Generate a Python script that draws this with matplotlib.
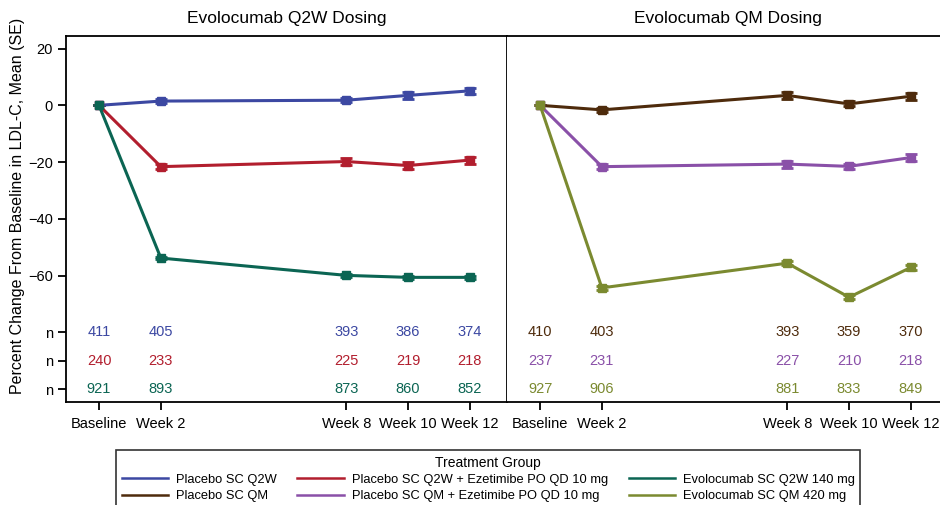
import matplotlib
matplotlib.use("Agg")
import matplotlib.pyplot as plt
from matplotlib.lines import Line2D

plt.rcParams['font.family'] = ['Liberation Sans', 'DejaVu Sans']

# data
weeks = [0, 2, 8, 10, 12]
week_labels = ['Baseline', 'Week 2', 'Week 8', 'Week 10', 'Week 12']

q2w_names = ['Placebo SC Q2W', 'Placebo SC Q2W + Ezetimibe PO QD 10 mg', 'Evolocumab SC Q2W 140 mg']
q2w_mean = [[0, 1.5, 1.8, 3.5, 5.1],
            [0, -21.6, -19.8, -21.2, -19.3],
            [0, -53.8, -59.9, -60.6, -60.6]]
q2w_se = [[0, 0.6, 0.7, 1.1, 1.1],
          [0, 0.8, 1.1, 1.3, 1.2],
          [0, 0.5, 0.5, 0.5, 0.5]]
q2w_n = [[411, 405, 393, 386, 374],
         [240, 233, 225, 219, 218],
         [921, 893, 873, 860, 852]]

qm_names = ['Placebo SC QM', 'Placebo SC QM + Ezetimibe PO QD 10 mg', 'Evolocumab SC QM 420 mg']
qm_mean = [[0, -1.6, 3.5, 0.5, 3.2],
           [0, -21.6, -20.7, -21.5, -18.4],
           [0, -64.3, -55.6, -67.6, -57.1]]
qm_se = [[0, 0.6, 1.2, 0.9, 1.2],
         [0, 0.9, 1.2, 1.0, 1.3],
         [0, 0.6, 0.7, 0.7, 0.8]]
qm_n = [[410, 403, 393, 359, 370],
        [237, 231, 227, 210, 218],
        [927, 906, 881, 833, 849]]

q2w_colors = ['#3C48A2', '#B21E2E', '#0B6553']
qm_colors = ['#4E2B0C', '#8A50A8', '#7B8A30']

n_rows = [-80, -90, -100]

fig = plt.figure(figsize=(9.4, 5.05), dpi=100)
ax1 = fig.add_axes([0.0702, 0.204, 0.469, 0.7257])
ax2 = fig.add_axes([0.5394, 0.204, 0.469, 0.7257])

def draw_panel(ax, means, ses, ns, colors, title):
    for m, s, c in zip(means, ses, colors):
        ax.errorbar(weeks, m, yerr=s, color=c, lw=2.2, marker='s', ms=6,
                    capsize=4, capthick=2, elinewidth=2, zorder=3)
    for row, y in enumerate(n_rows):
        for x, v in zip(weeks, ns[row]):
            ax.text(x, y, str(v), color=colors[row], ha='center', va='center', fontsize=10.5)
    ax.set_xlim(-1.07, 13.2)
    ax.set_ylim(-104.5, 24.6)
    ax.set_xticks(weeks)
    ax.set_xticklabels(week_labels, fontsize=10.5)
    ax.tick_params(axis='x', length=6, width=1.3, pad=5)
    ax.set_title(title, fontsize=12.5, pad=9)
    for sp in ax.spines.values():
        sp.set_linewidth(1.3)

draw_panel(ax1, q2w_mean, q2w_se, q2w_n, q2w_colors, 'Evolocumab Q2W Dosing')
draw_panel(ax2, qm_mean, qm_se, qm_n, qm_colors, 'Evolocumab QM Dosing')

ax1.set_yticks([20, 0, -20, -40, -60] + n_rows)
ax1.set_yticklabels(['20', '0', '\u221220', '\u221240', '\u221260', 'n', 'n', 'n'], fontsize=10.5)
ax1.tick_params(axis='y', length=6, width=1.3)
ax2.set_yticks([])
ax2.spines['left'].set_visible(False)

fig.text(18 / 940, 1 - 206 / 505, 'Percent Change From Baseline in LDL-C, Mean (SE)',
         rotation=90, ha='center', va='center', fontsize=11.5)

# legend, filled column by column
handles = []
labels = []
for i in range(3):
    handles += [Line2D([], [], color=q2w_colors[i], lw=1.8), Line2D([], [], color=qm_colors[i], lw=1.8)]
    labels += [q2w_names[i], qm_names[i]]
leg = fig.legend(handles, labels, ncol=3, title='Treatment Group', loc='upper left',
                 bbox_to_anchor=(116 / 940, 1 - 450 / 505), borderaxespad=0,
                 fontsize=9.3, title_fontsize=10,
                 frameon=True, fancybox=False, edgecolor='black', handlelength=3.6,
                 columnspacing=1.6, labelspacing=0.32, borderpad=0.45, handletextpad=0.6)
leg.get_frame().set_linewidth(1.2)

fig.savefig('out.png', dpi=100)
